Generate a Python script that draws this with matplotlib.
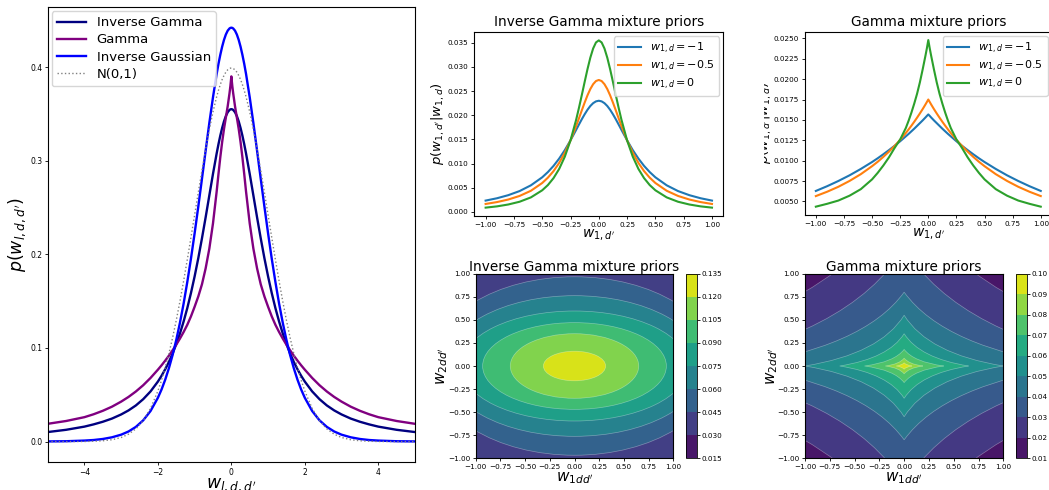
import numpy as np
import matplotlib
matplotlib.use("Agg")
import matplotlib.pyplot as plt
from matplotlib.cm import ScalarMappable
from matplotlib.colors import BoundaryNorm, ListedColormap
from matplotlib.patches import Ellipse, PathPatch
from matplotlib.path import Path
from matplotlib.ticker import MultipleLocator
from matplotlib.transforms import Bbox, TransformedBbox

W, H = 1049, 490

# ---- marginal priors p(w), right half of each symmetric density ----
w_half = np.array([0, 0.025, 0.05, 0.1, 0.15, 0.2, 0.25, 0.3, 0.35, 0.4, 0.5,
                   0.6, 0.7, 0.8, 0.9, 1.0, 1.1, 1.2, 1.3, 1.4, 1.5, 1.6, 1.7,
                   1.8, 1.9, 2.0, 2.2, 2.4, 2.6, 2.8, 3.0, 3.25, 3.5, 3.75,
                   4.0, 4.5, 5.0])
pdf_inv_gamma = np.array([0.3550, 0.3548, 0.3542, 0.3517, 0.3476, 0.3420,
                          0.3350, 0.3269, 0.3177, 0.3077, 0.2859, 0.2628,
                          0.2395, 0.2171, 0.1959, 0.1764, 0.1586, 0.1425,
                          0.1282, 0.1154, 0.1041, 0.0940, 0.0851, 0.0773,
                          0.0703, 0.0641, 0.0536, 0.0453, 0.0386, 0.0333,
                          0.0290, 0.0246, 0.0212, 0.0184, 0.0160, 0.0126,
                          0.0102])
pdf_gamma = np.array([0.390, 0.380, 0.372, 0.358, 0.346, 0.334, 0.320, 0.304,
                      0.286, 0.267, 0.233, 0.206, 0.185, 0.168, 0.155, 0.1440,
                      0.1337, 0.1247, 0.1170, 0.1100, 0.1035, 0.0975, 0.0918,
                      0.0865, 0.0815, 0.0768, 0.0680, 0.0602, 0.0535, 0.0477,
                      0.0427, 0.0373, 0.0329, 0.0292, 0.0261, 0.0220, 0.0190])
pdf_inv_gauss = np.array([0.4420, 0.4418, 0.4412, 0.4388, 0.4347, 0.4290,
                          0.4218, 0.4132, 0.4035, 0.3926, 0.3677, 0.3401,
                          0.3107, 0.2807, 0.2510, 0.2224, 0.1953, 0.1703,
                          0.1473, 0.1268, 0.1085, 0.0924, 0.0784, 0.0662,
                          0.0557, 0.0468, 0.0327, 0.0227, 0.0157, 0.0108,
                          0.0074, 0.0046, 0.0028, 0.0017, 0.0011, 0.0004,
                          0.0002])
pdf_normal = np.array([0.3989, 0.3988, 0.3984, 0.3970, 0.3945, 0.3910, 0.3867,
                       0.3814, 0.3752, 0.3683, 0.3521, 0.3332, 0.3123, 0.2897,
                       0.2661, 0.2420, 0.2179, 0.1942, 0.1714, 0.1497, 0.1295,
                       0.1109, 0.0940, 0.0790, 0.0656, 0.0540, 0.0355, 0.0224,
                       0.0136, 0.0079, 0.0044, 0.0020, 0.0009, 0.0004, 0.0001,
                       0.0000, 0.0000])

# ---- conditional priors p(w_{1,d'} | w_{1,d}) ----
cond_labels = [r"$w_{1,d}=-1$", r"$w_{1,d}=-0.5$", r"$w_{1,d}=0$"]

ig_half = np.array([0, 0.025, 0.05, 0.075, 0.1, 0.125, 0.15, 0.175, 0.2, 0.25,
                    0.3, 0.35, 0.4, 0.45, 0.5, 0.6, 0.7, 0.8, 0.9, 1.0])
ig_cond_m1 = np.array([0.02300, 0.02287, 0.02250, 0.02191, 0.02113, 0.02020,
                       0.01918, 0.01809, 0.01698, 0.01480, 0.01279, 0.01103,
                       0.00951, 0.00823, 0.00715, 0.00549, 0.00430, 0.00345,
                       0.00281, 0.00233])
ig_cond_m05 = np.array([0.02730, 0.02708, 0.02643, 0.02542, 0.02412, 0.02262,
                        0.02102, 0.01938, 0.01777, 0.01479, 0.01224, 0.01013,
                        0.00843, 0.00707, 0.00597, 0.00436, 0.00329, 0.00255,
                        0.00202, 0.00163])
ig_cond_0 = np.array([0.03550, 0.03507, 0.03382, 0.03191, 0.02953, 0.02690,
                      0.02419, 0.02156, 0.01908, 0.01479, 0.01144, 0.00889,
                      0.00698, 0.00554, 0.00446, 0.00299, 0.00209, 0.00152,
                      0.00113, 0.00087])

gm_half = np.array([0, 0.0125, 0.025, 0.05, 0.075, 0.1, 0.125, 0.15, 0.175,
                    0.2, 0.25, 0.3, 0.35, 0.4, 0.45, 0.5, 0.6, 0.7, 0.8, 0.9,
                    1.0])
gm_cond_m1 = np.array([0.01567, 0.01549, 0.01530, 0.01494, 0.01460, 0.01426,
                       0.01392, 0.01360, 0.01328, 0.01298, 0.01238, 0.01182,
                       0.01129, 0.01078, 0.01029, 0.00983, 0.00898, 0.00820,
                       0.00750, 0.00686, 0.00628])
gm_cond_m05 = np.array([0.01750, 0.01720, 0.01690, 0.01633, 0.01579, 0.01527,
                        0.01477, 0.01429, 0.01383, 0.01339, 0.01256, 0.01180,
                        0.01110, 0.01046, 0.00986, 0.00932, 0.00834, 0.00751,
                        0.00679, 0.00618, 0.00565])
gm_cond_0 = np.array([0.02480, 0.02380, 0.02290, 0.02120, 0.01960, 0.01820,
                      0.01700, 0.01590, 0.01490, 0.01400, 0.01260, 0.01155,
                      0.01040, 0.00940, 0.00850, 0.00770, 0.00650, 0.00570,
                      0.00510, 0.00470, 0.00435])

# ---- joint priors p(w_1dd', w_2dd'): contour levels and band extents ----
ig_levels = [0.015, 0.03, 0.045, 0.06, 0.075, 0.09, 0.105, 0.12, 0.135]
ig_edge_levels = [0.045, 0.06, 0.075, 0.09, 0.105, 0.12]
ig_edge_x = [1.45, 1.31, 1.15, 0.93, 0.65, 0.315]     # half-width along w_1
ig_edge_y = [0.967, 0.762, 0.596, 0.47, 0.35, 0.16]   # half-height along w_2

gm_levels = [0.01, 0.02, 0.03, 0.04, 0.05, 0.06, 0.07, 0.08, 0.09, 0.10]
gm_edge_levels = [0.02, 0.03, 0.04, 0.05, 0.06, 0.07, 0.08, 0.09]
gm_edge_x = [3.3, 2.3, 1.7, 1.0, 0.65, 0.40, 0.19, 0.08]
gm_edge_y = [1.82, 1.28, 0.80, 0.55, 0.35, 0.18, 0.085, 0.035]


def mirror(half, odd=False):
    half = np.asarray(half)
    left = -half[:0:-1] if odd else half[:0:-1]
    return np.concatenate([left, half])


def px_rect(left, top, right, bottom):
    return [left / W, 1 - bottom / H, (right - left) / W, (bottom - top) / H]


def band_colors(levels):
    lv = np.asarray(levels)
    mids = (lv[:-1] + lv[1:]) / 2
    return plt.cm.viridis((mids - lv[0]) / (lv[-1] - lv[0]))


def level_index(levels, lev):
    return int(np.argmin(np.abs(np.asarray(levels) - lev)))


def concave_diamond(a, b, c=0.24):
    verts = [(a, 0), (c * a, c * b), (0, b), (-c * a, c * b), (-a, 0),
             (-c * a, -c * b), (0, -b), (c * a, -c * b), (a, 0)]
    codes = [Path.MOVETO] + [Path.CURVE3] * 8
    return Path(verts, codes)


def style_ticks(ax, size=5.2):
    ax.tick_params(labelsize=size, length=2.5, width=0.6, pad=1.5)


fig = plt.figure(figsize=(W / 100, H / 100), dpi=100)

# ---------------- left: marginal priors ----------------
ax = fig.add_axes(px_rect(47.7, 7, 415, 462.3))
xs = mirror(w_half, odd=True)
ax.plot(xs, mirror(pdf_inv_gamma), color="navy", lw=1.7, label="Inverse Gamma")
ax.plot(xs, mirror(pdf_gamma), color="purple", lw=1.7, label="Gamma")
ax.plot(xs, mirror(pdf_inv_gauss), color="blue", lw=1.7, label="Inverse Gaussian")
ax.plot(xs, mirror(pdf_normal), color="gray", ls=":", lw=1.0, label="N(0,1)")
ax.set_xlim(-5, 5)
ax.xaxis.set_major_locator(MultipleLocator(2))
ax.yaxis.set_major_locator(MultipleLocator(0.1))
style_ticks(ax, 5.5)
ax.set_ylabel(r"$p(w_{l,d,d'})$", fontsize=12.5)
ax.yaxis.set_label_coords(-0.054, 0.5)
ax.set_xlabel(r"$w_{l,d,d'}$", fontsize=12.5)
ax.xaxis.set_label_coords(0.5, -0.03)
ax.legend(loc="upper left", fontsize=9.5, handlelength=2.2,
          borderaxespad=0.3, labelspacing=0.32)

# ---------------- top: conditional priors ----------------
cond_colors = ["tab:blue", "tab:orange", "tab:green"]
cond_sets = [
    (px_rect(474.3, 32, 723.3, 216), "Inverse Gamma mixture priors", ig_half,
     [ig_cond_m1, ig_cond_m05, ig_cond_0], 0.005, -0.11),
    (px_rect(804.6, 31.7, 1052, 215), "Gamma mixture priors", gm_half,
     [gm_cond_m1, gm_cond_m05, gm_cond_0], 0.0025, -0.124),
]
top_axes = []
for rect, title, half, curves, ystep, ylab_x in cond_sets:
    ax = fig.add_axes(rect)
    x = mirror(half, odd=True)
    for vals, col, lab in zip(curves, cond_colors, cond_labels):
        ax.plot(x, mirror(vals), color=col, lw=1.5, label=lab)
    ax.xaxis.set_major_locator(MultipleLocator(0.25))
    ax.yaxis.set_major_locator(MultipleLocator(ystep))
    style_ticks(ax)
    ax.set_title(title, fontsize=9.8, pad=4)
    ax.set_xlabel(r"$w_{1,d'}$", fontsize=10)
    ax.xaxis.set_label_coords(0.5, -0.065)
    ax.set_ylabel(r"$p(w_{1,d'}|w_{1,d})$", fontsize=9.5)
    ax.yaxis.set_label_coords(ylab_x, 0.5)
    ax.legend(loc="upper right", fontsize=8, handlelength=2.0,
              borderaxespad=0.4, labelspacing=0.25)
    top_axes.append(ax)

# the right-hand y label is partly hidden behind its neighbour
lab = top_axes[1].yaxis.label
lab.set_clip_on(True)
lab.set_clip_box(TransformedBbox(Bbox.from_extents(764 / W, 0, 1, 1),
                                 fig.transFigure))

# ---------------- bottom: joint priors ----------------
joint_sets = [
    (px_rect(475.7, 273.7, 673.3, 458.3), px_rect(686, 273.7, 696.7, 458.3),
     "Inverse Gamma mixture priors", ig_levels, ig_edge_levels, ig_edge_x,
     ig_edge_y, "ellipse", -0.13),
    (px_rect(805, 273.7, 1003.3, 458.3), px_rect(1016, 273.7, 1026.7, 458.3),
     "Gamma mixture priors", gm_levels, gm_edge_levels, gm_edge_x,
     gm_edge_y, "diamond", -0.125),
]
for rect, crect, title, levels, edge_lev, ex, ey, shape, ylab_x in joint_sets:
    ax = fig.add_axes(rect)
    colors = band_colors(levels)
    first = level_index(levels, edge_lev[0])
    ax.set_facecolor(colors[first - 1])
    for lev, a, b in zip(edge_lev, ex, ey):
        fc = colors[level_index(levels, lev)]
        if shape == "ellipse":
            patch = Ellipse((0, 0), 2 * a, 2 * b)
        else:
            patch = PathPatch(concave_diamond(a, b))
        patch.set_facecolor(fc)
        patch.set_edgecolor((1, 1, 1, 0.35))
        patch.set_linewidth(0.5)
        ax.add_patch(patch)
    ax.set_xlim(-1, 1)
    ax.set_ylim(-1, 1)
    ax.xaxis.set_major_locator(MultipleLocator(0.25))
    ax.yaxis.set_major_locator(MultipleLocator(0.25))
    style_ticks(ax)
    ax.set_title(title, fontsize=9.8, pad=2)
    ax.set_xlabel(r"$w_{1dd'}$", fontsize=11)
    ax.xaxis.set_label_coords(0.5, -0.063)
    ax.set_ylabel(r"$w_{2dd'}$", fontsize=11)
    ax.yaxis.set_label_coords(ylab_x, 0.5)

    cax = fig.add_axes(crect)
    sm = ScalarMappable(norm=BoundaryNorm(levels, len(colors)),
                        cmap=ListedColormap(colors))
    cb = fig.colorbar(sm, cax=cax, ticks=levels)
    cb.ax.tick_params(labelsize=5.2, length=2, width=0.6, pad=1.5)
    cb.outline.set_linewidth(0.6)

fig.savefig("out.png", dpi=100)
plt.close(fig)
